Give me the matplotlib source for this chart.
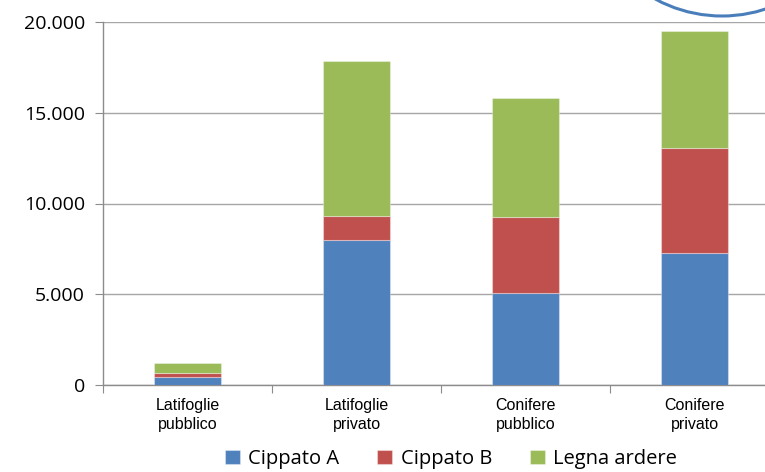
import matplotlib
matplotlib.use("Agg")
import matplotlib.pyplot as plt
from matplotlib.patches import Ellipse
from matplotlib.ticker import FuncFormatter, FixedLocator
import numpy as np

categories = ["Latifoglie\npubblico", "Latifoglie\nprivato", "Conifere\npubblico", "Conifere\nprivato"]
cippato_a = [450, 8000, 5050, 7270]
cippato_b = [200, 1300, 4200, 5800]
legna_ardere = [550, 8550, 6550, 6450]
series_names = ["Cippato A", "Cippato B", "Legna ardere"]
colors = ["#4f81bd", "#c0504d", "#9bbb59"]
yticks = [0, 5000, 10000, 15000, 20000]

W, H = 765, 472
fig = plt.figure(figsize=(W / 100, H / 100), dpi=100)
ax = fig.add_axes([103 / W, 1 - 385 / H, 676 / W, 363 / H])

x = np.arange(len(categories))
bottom = np.zeros(len(categories))
handles = []
for vals, name, col in zip([cippato_a, cippato_b, legna_ardere], series_names, colors):
    b = ax.bar(x, vals, 0.4, bottom=bottom, color=col, label=name,
               edgecolor=(1, 1, 1, 0.35), linewidth=0.8, zorder=3)
    bottom += np.array(vals)
    handles.append(b)

ax.set_xlim(-0.5, 3.5)
ax.set_ylim(0, 20000)
ax.set_yticks(yticks)
ax.yaxis.set_major_formatter(FuncFormatter(lambda v, p: f"{int(v):,}".replace(",", ".")))
ax.grid(axis="y", color="#a6a6a6", linewidth=1.0, zorder=0)
ax.set_axisbelow(True)

for s in ["top", "right"]:
    ax.spines[s].set_visible(False)
for s in ["left", "bottom"]:
    ax.spines[s].set_color("#8c8c8c")
    ax.spines[s].set_linewidth(1.0)

ax.tick_params(axis="y", length=6, color="#8c8c8c", labelsize=14, pad=7)
for t in ax.get_yticklabels():
    t.set_fontfamily("Open Sans")

ax.xaxis.set_major_locator(FixedLocator([-0.5, 0.5, 1.5, 2.5, 3.5]))
ax.set_xticklabels([])
ax.tick_params(axis="x", length=6, color="#8c8c8c")
for xi, lab in zip(x, categories):
    ax.text(xi, -0.035, lab, transform=ax.get_xaxis_transform(), ha="center", va="top",
            fontsize=11.5, family="Liberation Sans", linespacing=1.35)

fig.legend(handles=handles, labels=series_names, loc="center", bbox_to_anchor=(451 / W, 1 - 459 / H),
           ncol=3, frameon=False, prop={"family": "Open Sans", "size": 14.5},
           handlelength=0.75, handleheight=0.75, handletextpad=0.4, columnspacing=1.9)

ell = Ellipse((722 / W, 1 - (-124) / H), 2 * 140 / W, 2 * 140 / H, transform=fig.transFigure,
              fill=False, edgecolor="#4a7ebb", linewidth=2.2)
fig.add_artist(ell)

fig.savefig("out.png", dpi=100)
